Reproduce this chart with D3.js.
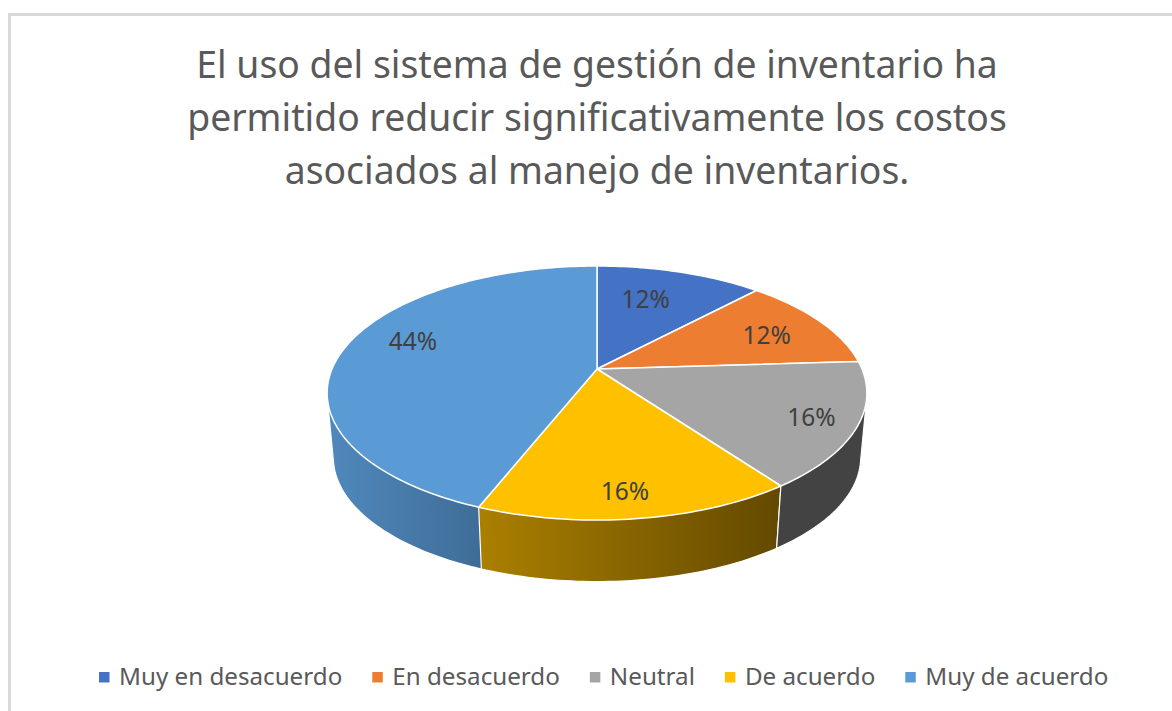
<!DOCTYPE html>
<html>
<head>
<meta charset="utf-8">
<script src="https://cdn.jsdelivr.net/npm/d3@7"></script>
<style>
    html, body { margin: 0; padding: 0; background: #fff; }
    svg { display: block; font-family: "Noto Sans", "Open Sans", sans-serif; }
</style>
</head>
<body>
<svg width="1172" height="711"></svg>
<script>
var titleLines = [
    "El uso del sistema de gestión de inventario ha",
    "permitido reducir significativamente los costos",
    "asociados al manejo de inventarios."
];
var categories = ["Muy en desacuerdo", "En desacuerdo", "Neutral", "De acuerdo", "Muy de acuerdo"];
var values = [12, 12, 16, 16, 44];
var colors = ["#4472c4", "#ed7d31", "#a5a5a5", "#ffc000", "#5b9bd5"];

// side wall colours, left to right (index = slice)
var sideColors = [null, null, ["#434343", "#434343"], ["#ab8000", "#634900"], ["#5089bd", "#3f6d98"]];

// hand nudges, excel label layout is not regular
var labelNudge = [[-16, 6], [0, 3], [23, 7], [-1, 16], [6, -11]];

var svg = d3.select("svg"),
    width = +svg.attr("width"),
    height = +svg.attr("height");

var cx = 597, cy = 369, cyBottom = 434;
var rx = 265, ry = 122.5, persp = 0.189, bottomScale = 0.977;

// tilted disc with perspective: back edge is squashed, front edge stretched
function project(angle, r, bottom) {
    var u = Math.sin(angle) * r,
        v = -Math.cos(angle) * r,
        w = 1 - persp * v,
        s = bottom ? bottomScale : 1;
    return [cx + s * rx * u / w, (bottom ? cyBottom : cy) + s * ry * v / w];
}

function arcPoints(a0, a1, bottom) {
    var n = Math.max(2, Math.ceil((a1 - a0) / 0.02));
    return d3.range(n + 1).map(function (i) {
        return project(a0 + (a1 - a0) * i / n, 1, bottom);
    });
}

var line = d3.line();

var slices = d3.pie().sort(null).value(function (d) {
    return d;
})(values);

// frame
svg.append("path")
    .attr("d", "M9.5," + height + "V14.5H" + width)
    .attr("fill", "none")
    .attr("stroke", "#d9d9d9")
    .attr("stroke-width", 3);

// title
svg.append("g")
    .selectAll("text")
    .data(titleLines)
    .enter().append("text")
    .attr("x", 597)
    .attr("y", function (d, i) {
        return 78 + i * 53;
    })
    .attr("text-anchor", "middle")
    .attr("font-size", 37.35)
    .attr("fill", "#595959")
    .text(function (d) {
        return d;
    });

var defs = svg.append("defs");
slices.forEach(function (d, i) {
    if (!sideColors[i]) return;
    var pts = arcPoints(d.startAngle, d.endAngle, false)
        .filter(function (p) { return p[1] > 393; });
    var grad = defs.append("linearGradient")
        .attr("id", "side" + i)
        .attr("gradientUnits", "userSpaceOnUse")
        .attr("x1", d3.min(pts, function (p) { return p[0]; }))
        .attr("x2", d3.max(pts, function (p) { return p[0]; }))
        .attr("y1", 0)
        .attr("y2", 0);
    grad.append("stop").attr("offset", 0).attr("stop-color", sideColors[i][0]);
    grad.append("stop").attr("offset", 1).attr("stop-color", sideColors[i][1]);
});

// side walls first, the top faces paint over the hidden parts
// hull so the outline keeps the straight edge between the two rims
// reversed so the big blue hull ends up under the yellow wall
svg.append("g")
    .selectAll("path")
    .data(slices.filter(function (d, i) {
        return sideColors[i];
    }).reverse())
    .enter().append("path")
    .attr("d", function (d) {
        var top = arcPoints(d.startAngle, d.endAngle, false),
            bottom = arcPoints(d.startAngle, d.endAngle, true);
        return line(d3.polygonHull(top.concat(bottom))) + "Z";
    })
    .attr("fill", function (d) {
        return "url(#side" + d.index + ")";
    })
    .attr("stroke", "#fff")
    .attr("stroke-width", 1.2)
    .attr("stroke-linejoin", "round");

// top faces
svg.append("g")
    .selectAll("path")
    .data(slices)
    .enter().append("path")
    .attr("d", function (d) {
        return line([[cx, cy]].concat(arcPoints(d.startAngle, d.endAngle, false))) + "Z";
    })
    .attr("fill", function (d) {
        return colors[d.index];
    })
    .attr("stroke", "#fff")
    .attr("stroke-width", 1.5)
    .attr("stroke-linejoin", "round");

// percent labels
svg.append("g")
    .selectAll("text")
    .data(slices)
    .enter().append("text")
    .attr("transform", function (d) {
        var p = project((d.startAngle + d.endAngle) / 2, 0.75, false);
        return "translate(" + (p[0] + labelNudge[d.index][0]) + "," + (p[1] + labelNudge[d.index][1]) + ")";
    })
    .attr("dy", "0.35em")
    .attr("text-anchor", "middle")
    .attr("font-size", 24.5)
    .attr("fill", "#404040")
    .text(function (d) {
        return d.data + "%";
    });

// legend, laid out from the measured text widths
var legend = svg.append("g");
var legendX = 99;
categories.forEach(function (name, i) {
    legend.append("rect")
        .attr("x", legendX)
        .attr("y", 672)
        .attr("width", 10.5)
        .attr("height", 10.5)
        .attr("fill", colors[i]);
    var label = legend.append("text")
        .attr("x", legendX + 20)
        .attr("y", 685)
        .attr("font-size", 24.2)
        .attr("fill", "#595959")
        .text(name);
    legendX += 20 + label.node().getComputedTextLength() + 30;
});
</script>
</body>
</html>
